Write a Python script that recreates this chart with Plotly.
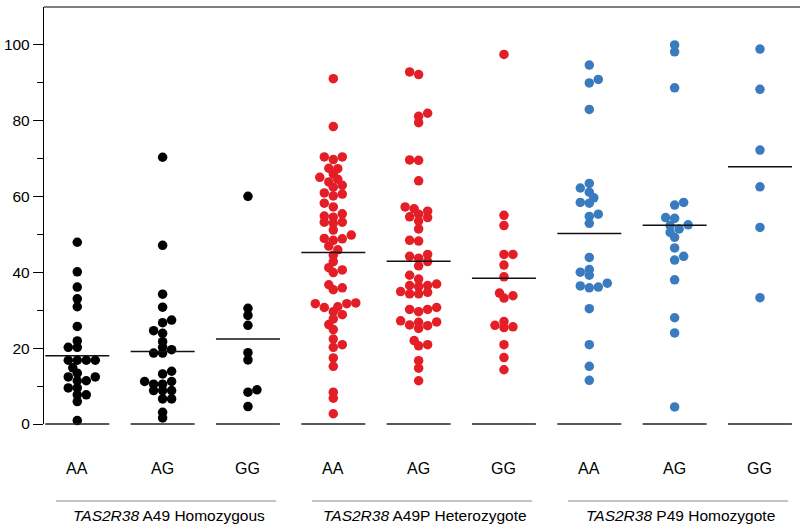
import numpy as np
import plotly.graph_objects as go

# ---------------- data ----------------
categories = ["AA", "AG", "GG", "AA", "AG", "GG", "AA", "AG", "GG"]
group_titles = ["<i>TAS2R38</i> A49 Homozygous",
                "<i>TAS2R38</i> A49P Heterozygote",
                "<i>TAS2R38</i> P49 Homozygote"]

aa_a49 = [47.9, 40.1, 36.1, 33.0, 30.9, 25.7, 21.9, 20.2, 20.2, 16.8, 16.8, 16.8, 16.8,
          14.8, 13.4, 12.4, 12.4, 11.4, 11.4, 9.5, 9.5, 7.7, 7.7, 5.9, 0.9]
ag_a49 = [70.3, 47.1, 34.2, 30.8, 27.4, 26.7, 24.6, 23.9, 21.7, 20.2, 19.6, 18.7, 18.7,
          13.9, 13.2, 11.2, 11.2, 10.5, 10.5, 8.8, 8.8, 8.8, 6.6, 6.6, 3.1, 1.6]
gg_a49 = [60.0, 30.5, 28.6, 26.0, 18.8, 16.9, 9.0, 8.4, 4.6]

aa_het = [91.0, 78.4, 69.7, 70.4, 70.4, 67.3, 67.4, 65.9, 63.8, 64.5, 65.0, 62.4, 62.9,
          60.1, 60.6, 60.9, 57.2, 58.2, 54.5, 54.8, 55.4, 52.9, 53.2, 53.2, 51.1, 49.8,
          48.4, 48.8, 48.9, 46.9, 45.9, 44.5, 42.8, 39.9, 40.6, 41.2, 35.4, 35.9, 36.7,
          30.7, 30.9, 31.7, 31.7, 31.9, 28.8, 29.6, 26.2, 27.7, 24.9, 22.4, 20.9, 20.2,
          17.4, 15.2, 8.4, 6.8, 2.7]
ag_het = [92.8, 92.1, 81.1, 81.9, 79.4, 69.5, 69.6, 64.1, 56.7, 57.2, 56.1, 54.4, 54.6,
          55.3, 53.5, 51.4, 48.2, 48.4, 44.7, 44.2, 43.7, 42.8, 41.7, 39.2, 38.2, 36.5,
          36.2, 36.5, 36.9, 34.3, 34.3, 34.7, 34.9, 30.2, 30.2, 29.6, 30.7, 26.1, 25.9,
          25.2, 26.8, 26.9, 27.2, 20.6, 20.9, 22.0, 16.7, 14.7, 11.4]
gg_het = [97.4, 55.0, 52.3, 44.7, 44.7, 41.9, 38.8, 34.5, 33.8, 33.2, 27.0, 26.0, 25.6,
          25.4, 20.9, 17.5, 14.3]

aa_p49 = [94.6, 90.8, 89.9, 82.9, 63.4, 62.2, 61.1, 59.6, 58.2, 58.4, 54.7, 55.3, 52.9,
          43.9, 40.0, 40.7, 39.2, 35.9, 36.1, 36.4, 37.1, 30.4, 20.9, 15.2, 11.5]
ag_p49 = [99.9, 98.1, 88.6, 58.4, 57.7, 54.2, 54.4, 52.3, 52.5, 51.4, 50.5, 49.2, 46.4,
          44.2, 43.2, 38.0, 28.0, 24.0, 4.5]
gg_p49 = [98.8, 88.2, 72.2, 62.5, 51.8, 33.3]

means = [18.0, 19.1, 22.4, 45.2, 42.9, 38.4, 50.2, 52.4, 67.8]

y_major_ticks = [0, 20, 40, 60, 80, 100]
y_minor_ticks = [10, 30, 50, 70, 90]

series = [aa_a49, ag_a49, gg_a49, aa_het, ag_het, gg_het, aa_p49, ag_p49, gg_p49]
BLACK, RED, BLUE = "#000000", "#e41e26", "#3a7bbf"
colors = [BLACK] * 3 + [RED] * 3 + [BLUE] * 3

# ---------------- geometry ----------------
W, H = 800, 529
ML, MR, MT, MB = 44, 0, 7, 105
X_MIN, X_MAX = 0.61, 9.469
Y_MAX = 109.9
PX_X = (W - ML - MR) / (X_MAX - X_MIN)
PX_Y = (H - MT - MB) / Y_MAX


def swarm(values, dx_min=9.0, dy_min=5.5, step=4.5):
    vals = np.asarray(values, dtype=float)
    order = np.argsort(vals, kind="stable")
    placed = []
    offs = np.zeros(len(vals))
    toggle = 1
    for i in order:
        y = vals[i] * PX_Y
        k = 0
        chosen = None
        while chosen is None:
            cands = [0.0] if k == 0 else [toggle * k * step, -toggle * k * step]
            for c in cands:
                if all(((c - px) / dx_min) ** 2 + ((y - py) / dy_min) ** 2 >= 1.0
                       for px, py in placed):
                    chosen = c
                    break
            k += 1
        if chosen != 0:
            toggle = -toggle
        placed.append((chosen, y))
        offs[i] = chosen
    return offs / PX_X


fig = go.Figure()
for gi, vals in enumerate(series):
    xc = gi + 1
    off = swarm(vals)
    fig.add_trace(go.Scatter(
        x=xc + off, y=vals, mode="markers",
        marker=dict(size=9.5, color=colors[gi], line=dict(width=0)),
        cliponaxis=False, showlegend=False, hoverinfo="y"))

HALF = 0.375
shapes = []
for gi, m in enumerate(means):
    xc = gi + 1
    shapes.append(dict(type="line", xref="x", yref="y", x0=xc - HALF, x1=xc + HALF,
                       y0=m, y1=m, line=dict(color="#111111", width=1.4)))
    shapes.append(dict(type="line", xref="x", yref="paper", x0=xc - HALF, x1=xc + HALF,
                       y0=0, y1=0, line=dict(color="#222222", width=1.4)))

# top frame line
shapes.append(dict(type="line", xref="paper", yref="paper", x0=0, x1=1, y0=1, y1=1,
                   line=dict(color="#000000", width=1.2)))

plot_h = H - MT - MB


def ypaper(py):
    return (H - MB - py) / plot_h


annotations = []
for gi, cat in enumerate(categories):
    annotations.append(dict(x=gi + 1, y=ypaper(468), xref="x", yref="paper", text=cat,
                            showarrow=False, xanchor="center", yanchor="middle",
                            font=dict(size=16, color="#000000")))
for k, title in enumerate(group_titles):
    x0 = 3 * k + 1 - 0.25
    x1 = 3 * k + 3 + 0.33
    shapes.append(dict(type="line", xref="x", yref="paper", x0=x0, x1=x1,
                       y0=ypaper(501), y1=ypaper(501),
                       line=dict(color="#8a8a8a", width=1)))
    annotations.append(dict(x=(x0 + x1) / 2 + 0.03, y=ypaper(515), xref="x", yref="paper",
                            text=title, showarrow=False, xanchor="center", yanchor="middle",
                            font=dict(size=15.5, color="#000000")))

fig.update_layout(
    width=W, height=H,
    margin=dict(l=ML, r=MR, t=MT, b=MB),
    paper_bgcolor="white", plot_bgcolor="white",
    font=dict(family="Liberation Sans, Arial, Helvetica, sans-serif", size=15, color="#000"),
    shapes=shapes, annotations=annotations,
    xaxis=dict(range=[X_MIN, X_MAX], showgrid=False, zeroline=False, showline=False,
               showticklabels=False, ticks=""),
    yaxis=dict(range=[0, Y_MAX], showgrid=False, zeroline=False, showline=True,
               linecolor="#000", linewidth=1.3, ticks="outside", ticklen=10,
               tickwidth=1.3, tickcolor="#000", tickmode="array",
               tickvals=y_major_ticks, ticktext=[str(v) for v in y_major_ticks],
               tickfont=dict(size=15.5, color="#000"),
               minor=dict(tickmode="array", tickvals=y_minor_ticks, ticks="outside",
                          ticklen=6, tickwidth=1.3, tickcolor="#000", showgrid=False)),
)

fig.write_html("out.html", config={"displayModeBar": False},
               post_script="document.body.style.margin='0';document.body.style.overflow='hidden';")
